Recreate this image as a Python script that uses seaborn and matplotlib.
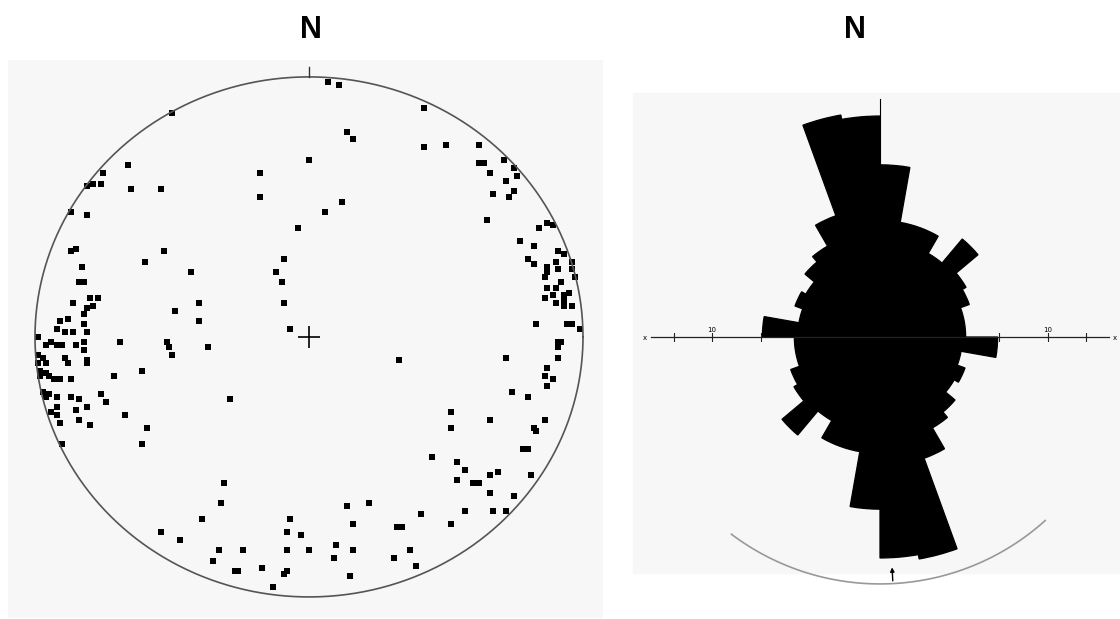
import numpy as np
import matplotlib.pyplot as plt
import seaborn as sns
from matplotlib.patches import Rectangle

# poles on the equal-area net, east / north in units of the net radius
pole_e = [-0.50, 0.00, -0.18, -0.18, -0.04, -0.66, -0.65, -0.54, -0.75, -0.76,
          -0.79, -0.81, -0.87, -0.81, -0.87, -0.85, -0.53, -0.60, -0.43, -0.83,
          -0.84, -0.82, -0.09, -0.12, -0.10, -0.09, -0.07, -0.40, -0.40, -0.49,
          -0.80, -0.77, -0.86, -0.81, -0.79, -0.82, -0.88, -0.91, -0.82, -0.92,
          -0.89, -0.86, -0.81, -0.99, -0.82, -0.69, -0.96, -0.94, -0.92, -0.90,
          -0.85, -0.82, -0.99, -0.97, -0.89, -0.88, -0.81, -0.81, -0.99, -0.96,
          -0.71, -0.98, -0.96, -0.98, -0.95, -0.93, -0.91, -0.87, -0.97, -0.95,
          -0.96, -0.92, -0.87, -0.84, -0.76, -0.74, -0.81, -0.85, -0.92, -0.92,
          -0.94, -0.91, -0.84, -0.80, -0.67, -0.90, -0.61, -0.59, -0.61, -0.52,
          -0.51, -0.50, -0.37, -0.29, -0.31, -0.32, -0.39, -0.54, -0.47, -0.33,
          -0.35, -0.24, -0.27, -0.26, -0.17, -0.13, -0.09, -0.08, -0.08, -0.08,
          -0.07, -0.03, 0.00, 0.07, 0.11, 0.14, 0.16, 0.12, 0.06, 0.42,
          0.42, 0.50, 0.62, 0.62, 0.64, 0.66, 0.71, 0.75, 0.76, 0.72,
          0.67, 0.73, 0.75, 0.65, 0.84, 0.87, 0.89, 0.77, 0.82, 0.80,
          0.82, 0.91, 0.93, 0.96, 0.90, 0.87, 0.87, 0.86, 0.91, 0.96,
          0.97, 0.92, 0.87, 0.90, 0.86, 0.89, 0.93, 0.95, 0.93, 0.90,
          0.93, 0.96, 0.83, 0.94, 0.96, 0.99, 0.91, 0.92, 0.91, 0.91,
          0.72, 0.33, 0.87, 0.86, 0.89, 0.87, 0.74, 0.80, 0.86, 0.82,
          0.83, 0.52, 0.52, 0.66, 0.78, 0.80, 0.45, 0.54, 0.57, 0.81,
          0.54, 0.60, 0.62, 0.66, 0.69, 0.66, 0.75, 0.72, 0.67, 0.57,
          0.52, 0.41, 0.32, 0.34, 0.37, 0.31, 0.39, 0.14, 0.22, 0.16,
          0.10, 0.16, 0.09, 0.15]
pole_n = [0.86, 0.68, 0.63, 0.54, 0.42, 0.66, 0.57, 0.57, 0.63, 0.59,
          0.59, 0.58, 0.48, 0.47, 0.33, 0.34, 0.33, 0.29, 0.25, 0.27,
          0.21, 0.21, 0.30, 0.25, 0.21, 0.13, 0.03, 0.13, 0.06, 0.10,
          0.15, 0.15, 0.13, 0.11, 0.12, 0.09, 0.07, 0.06, 0.05, 0.03,
          0.02, 0.02, 0.02, 0.00, -0.02, -0.02, -0.03, -0.02, -0.03, -0.03,
          -0.03, -0.05, -0.07, -0.08, -0.08, -0.10, -0.09, -0.10, -0.10, -0.10,
          -0.15, -0.13, -0.14, -0.15, -0.15, -0.16, -0.16, -0.16, -0.21, -0.22,
          -0.23, -0.23, -0.23, -0.24, -0.22, -0.25, -0.27, -0.28, -0.27, -0.30,
          -0.29, -0.33, -0.32, -0.34, -0.30, -0.41, -0.13, -0.35, -0.41, -0.02,
          -0.04, -0.07, -0.04, -0.24, -0.56, -0.64, -0.70, -0.75, -0.78, -0.82,
          -0.86, -0.82, -0.90, -0.90, -0.89, -0.96, -0.91, -0.90, -0.82, -0.75,
          -0.70, -0.76, -0.82, 0.98, 0.97, 0.79, 0.76, 0.52, 0.48, 0.88,
          0.73, 0.74, 0.74, 0.67, 0.67, 0.63, 0.68, 0.65, 0.62, 0.60,
          0.55, 0.54, 0.56, 0.45, 0.42, 0.44, 0.43, 0.37, 0.35, 0.30,
          0.28, 0.33, 0.32, 0.29, 0.29, 0.27, 0.25, 0.23, 0.26, 0.26,
          0.23, 0.21, 0.19, 0.19, 0.15, 0.16, 0.16, 0.17, 0.14, 0.13,
          0.12, 0.12, 0.05, 0.05, 0.05, 0.03, -0.02, -0.02, -0.04, -0.08,
          -0.08, -0.09, -0.12, -0.15, -0.16, -0.19, -0.21, -0.23, -0.32, -0.35,
          -0.36, -0.29, -0.35, -0.32, -0.43, -0.43, -0.46, -0.48, -0.51, -0.53,
          -0.55, -0.56, -0.56, -0.53, -0.52, -0.60, -0.61, -0.67, -0.67, -0.67,
          -0.72, -0.68, -0.73, -0.73, -0.82, -0.85, -0.88, -0.65, -0.64, -0.72,
          -0.80, -0.82, -0.85, -0.92]

# rose diagram: percent per 10 degree bin (0-180, mirrored onto 180-360)
bin_start = list(range(0, 180, 10))
rose_pct = [10.5, 4.8, 4.8, 3.3, 5.8, 3.5, 3.2, 2.6, 2.6,
            4.9, 2.4, 2.9, 2.6, 3.4, 3.9, 5.9, 18.0, 17.3]
scale_ticks = [5, 10, 15]
scale_labels = {10: "10"}
scale_end = 20
mean_dir = 177
arc_from, arc_to = 138, 217
arc_pct = 21.6

W, H = 1120, 619
def box(x0, y0, x1, y1):
    return [x0 / W, 1 - y1 / H, (x1 - x0) / W, (y1 - y0) / H]

fig = plt.figure(figsize=(W / 100, H / 100), dpi=100)
panel = "#f7f7f7"

# ---- left: stereonet
ax1 = fig.add_axes(box(8, 60, 603, 618))
ax1.set_facecolor(panel)
ax1.set_xlim(-1.0985, 1.073)
ax1.set_ylim(-1.081, 1.065)
for s in ax1.spines.values():
    s.set_visible(False)
ax1.set_xticks([])
ax1.set_yticks([])

t = np.linspace(0, 2 * np.pi, 400)
ax1.plot(np.cos(t), np.sin(t), color="#555555", lw=1.2)
ax1.plot([0, 0], [1.0, 1.04], color="#333333", lw=1)
ax1.plot(0, 0, marker="+", ms=16, mew=1.2, color="black")
sns.scatterplot(x=pole_e, y=pole_n, ax=ax1, marker="s", s=18,
                color="black", linewidth=0, legend=False)
ax1.set_xlabel("")
ax1.set_ylabel("")

# ---- right: rose diagram
fig.add_artist(Rectangle((633 / W, 1 - 573 / H), (1120 - 633) / W, (573 - 93) / H,
                         transform=fig.transFigure, color=panel, zorder=0))
P = 53.13   # px per sqrt(percent)
R = 4.75
cx, cy = 880, 337
ax2 = fig.add_axes(box(cx - R * P, cy - R * P, cx + R * P, cy + R * P), projection="polar")
ax2.set_theta_zero_location("N")
ax2.set_theta_direction(-1)
ax2.set_ylim(0, R)
ax2.set_axis_off()
ax2.patch.set_alpha(0)

theta = np.deg2rad(bin_start + [b + 180 for b in bin_start])
radius = np.sqrt(rose_pct + rose_pct)
ax2.bar(theta, radius, width=np.deg2rad(10), align="edge",
        color="black", edgecolor="black", linewidth=0.9)

ax2.plot([0, 0], [0, np.sqrt(scale_end)], color="black", lw=0.8)
for side in (np.pi / 2, 3 * np.pi / 2):
    ax2.plot([side, side], [0, np.sqrt(scale_end - 1.4)], color="#222222", lw=0.9)
    ax2.plot([side] * len(scale_ticks), np.sqrt(scale_ticks), ls="none",
             marker="|", ms=6, mew=0.8, color="#222222")
    for v, lab in scale_labels.items():
        ax2.annotate(lab, xy=(side, np.sqrt(v)), xytext=(0, 3), textcoords="offset points",
                     ha="center", va="bottom", fontsize=5)
    ax2.annotate("x", xy=(side, np.sqrt(scale_end - 0.4)), xytext=(0, -1),
                 textcoords="offset points", ha="center", va="center", fontsize=5)

arc_t = np.deg2rad(np.linspace(arc_from, arc_to, 120))
ax2.plot(arc_t, np.full(arc_t.shape, np.sqrt(arc_pct)), color="#999999", lw=1.2)
ax2.annotate("", xy=(np.deg2rad(mean_dir), np.sqrt(18.4)),
             xytext=(np.deg2rad(mean_dir), np.sqrt(arc_pct)),
             arrowprops=dict(arrowstyle="-|>", color="black", lw=1, mutation_scale=6))

for x in (311, 855):
    fig.text(x / W, 1 - 30 / H, "N", ha="center", va="center", fontsize=22,
             fontweight="bold", family=["Liberation Sans", "DejaVu Sans"])

fig.savefig("out.png", dpi=100)
